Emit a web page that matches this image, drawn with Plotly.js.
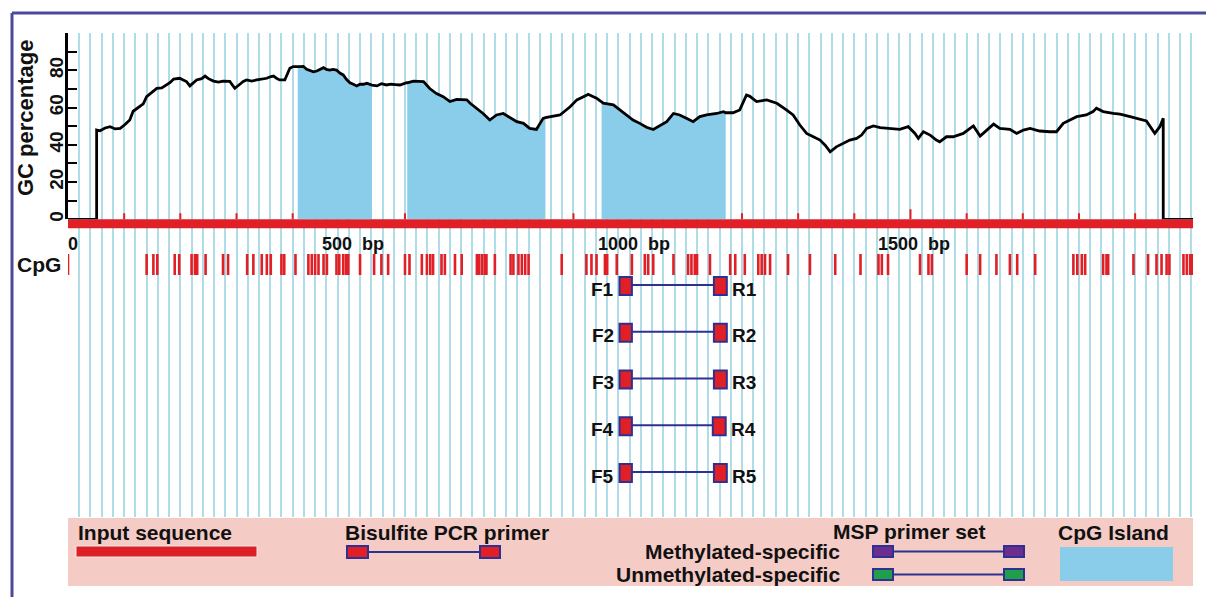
<!DOCTYPE html>
<html><head><meta charset="utf-8">
<script src="https://cdn.plot.ly/plotly-3.0.1.min.js"></script>
<style>html,body{margin:0;padding:0;background:#fff;}#chart{width:1206px;height:597px;}</style>
</head><body><div id="chart"></div>
<script>
// ---------------- data ----------------
const seqLength = 2003;
const gcPos = [0,51,51,57,66,75,84,93,102,110,116,128,134,140,149,158,167,176,182,188,199,205,211,217,223,229,238,244,250,259,268,276,288,297,306,312,318,327,336,345,354,360,366,372,377,386,392,395,401,407,409,413,419,425,431,437,443,449,455,460,466,472,478,484,490,496,502,508,514,520,526,532,541,550,558,567,575,583,
  591,603,604,615,627,633,644,656,668,680,692,710,716,728,739,751,763,775,787,799,811,822,834,846,850,858,876,894,906,924,926,941,950,953,971,983,995,1006,1018,1030,1042,1054,1066,1078,1089,1101,1113,1125,1137,1155,1167,1171,1184,1196,1208,1214,1226,1244,1262,1279,1291,1303,
  1315,1327,1339,1348,1357,1368,1380,1392,1404,1413,1422,1434,1446,1464,1481,1496,1508,1514,1523,1535,1546,1552,1564,1576,1594,1606,1612,1624,1636,1648,1659,1677,1689,1701,1713,1730,1748,1760,1772,1784,1796,1813,1825,1831,1843,1861,1873,1891,1909,1920,1929,1935,1944,1950,1950,2003];
const gcVal = [0,0,47.9,47.5,49,49.7,48.5,48.8,51,53.3,58,60.4,62,65.8,68,70.3,70.5,72.1,73.5,75.3,75.7,74.8,73.9,71.6,73,74.8,75.5,76.9,75.5,74.2,73.6,74.2,74,70.3,72.5,74,74.8,74.2,74.8,75.3,75.7,76.5,76.9,75.5,74.8,74.8,79,81.1,82,82.3,82,81.9,82,80.5,79.8,79.2,79.6,80.5,81.4,80.5,80.1,80.5,80.1,78.5,77.5,75,73.3,72.5,71.6,72.5,72.5,73,72,71.6,72.8,72.1,72.5,72.3,
  72.1,73.3,73.3,74.2,74.2,73.9,70.2,67.5,65.8,63.2,64.4,64.1,62.3,59.6,56.8,53.3,56.0,56.8,54.6,52.4,51.5,48.8,48.2,54.2,54.6,55.1,56.0,60.4,64.1,66.7,67.1,65.0,63,62.3,61.4,58.7,56.0,53.3,51.5,49.4,48.2,50.1,52.4,56.8,56.0,54.2,52.4,55.1,56.0,56.8,57.8,57.2,57.2,58.7,66.7,66.0,63.2,64.1,62.3,58.7,56.0,50.6,
  46.1,44.3,42.5,39.8,36.2,38.9,40.7,42.5,43.4,45.2,48.8,50.1,49.2,48.8,48.3,49.7,46.1,43.4,47.0,45.2,42.5,41.6,44.3,44.3,46.1,48.8,50.1,44.7,47.9,51.1,48.8,48.3,46.1,47.9,48.8,47.4,47.0,47.0,51.5,53.3,55.1,56.0,57.8,59.6,57.8,56.8,56.4,55.1,53.7,52.8,48.8,46.1,49.7,54.2,0,0];
const islandStart = [409, 604, 950];
const islandEnd = [541, 850, 1171];
const cpgPos = [0,140,152,159,190,198,220,226,230,245,276,285,319,330,345,354,361,380,385,405,428,434,440,446,455,461,478,483,490,495,499,520,545,558,570,600,608,630,639,645,650,665,671,689,701,728,732,737,742,745,760,788,793,802,808,814,820,879,923,932,941,956,960,977,1004,1027,1033,1042,1078,1104,1110,1116,1120,1143,1179,1188,1205,1229,1235,1241,1250,1282,1321,1366,1411,1443,1449,1460,1517,1532,1538,1600,1624,1653,1677,1690,1722,1790,1797,1805,1811,1843,1849,1852,1897,1923,1938,1947,1956,1961,1986,1992,1998,2001];
const primerNames = ['1','2','3','4','5'];
const fwdStart = [982,982,982,982,982];
const fwdEnd = [1004,1004,1004,1004,1004];
const revStart = [1150,1150,1150,1148,1150];
const revEnd = [1173,1173,1173,1171,1173];
const rulerTicks = [100,200,300,400,500,600,700,800,900,1000,1100,1200,1300,1400,1500,1600,1700,1800,1900];
const rulerMajor = [500,1000,1500];
const rulerLabelPos = [0,500,1000,1500];
const rulerLabelText = ['0','500\u00a0\u00a0bp','1000\u00a0\u00a0bp','1500\u00a0\u00a0bp'];
const gcTickVals = [0,10,20,30,40,50,60,70,80,90,100];
const gcTickText = ['0','','20','','40','','60','','80','',''];

// ---------------- styling / layout helpers ----------------
const FONT = 'Arial, "Liberation Sans", sans-serif';
const RED = '#e01f26', NAVY = '#2e3192', ISLAND = '#89cdea';
const PL = 68, PR = 1193, PT = 33, PB = 517, ZERO_PX = 219.3;
const X = px => (px - PL) / (PR - PL);
const Y = py => (PB - py) / (PB - PT);
const ROW0 = 286, ROWSTEP = 46.75;
const rowOf = py => 1 + (py - ROW0) / ROWSTEP;
const cpgRow = rowOf(264.5);
const zeroRow = rowOf(ZERO_PX);
const boxHalf = 0.19;

const traces = [];
// CpG marks (lower panel, x / y)
traces.push({x: cpgPos, y: cpgPos.map(() => cpgRow), xaxis: 'x', yaxis: 'y', type: 'scatter', mode: 'markers',
  marker: {symbol: 'line-ns', size: 15, color: RED, line: {color: RED, width: 2.6}}, hoverinfo: 'skip', showlegend: false});
// CpG islands (fill under GC curve)
islandStart.forEach((s, i) => {
  const xs = [], ys = [];
  gcPos.forEach((p, j) => { if (p >= s && p <= islandEnd[i] && gcVal[j] > 0) { xs.push(p); ys.push(gcVal[j]); } });
  traces.push({x: xs, y: ys, xaxis: 'x', yaxis: 'y2', type: 'scatter', mode: 'lines', fill: 'tozeroy',
    fillcolor: ISLAND, line: {width: 0, color: ISLAND}, hoverinfo: 'skip', showlegend: false});
});
// GC curve
traces.push({x: gcPos, y: gcVal, xaxis: 'x', yaxis: 'y2', type: 'scatter', mode: 'lines',
  line: {color: '#000', width: 2.8}, hoverinfo: 'skip', showlegend: false});

const shapes = [];
// ruler bar + ticks
shapes.push({type: 'rect', xref: 'x', yref: 'y', x0: 0, x1: seqLength, ysizemode: 'pixel', yanchor: zeroRow, y0: -9, y1: 0,
  fillcolor: RED, line: {width: 0}, layer: 'between'});
rulerTicks.forEach(t => {
  const len = rulerMajor.includes(t) ? 10 : 6;
  shapes.push({type: 'line', xref: 'x', yref: 'y2', x0: t, x1: t, ysizemode: 'pixel', yanchor: 0, y0: 0, y1: len,
    line: {color: RED, width: 2}, layer: 'between'});
});
// primers
primerNames.forEach((n, i) => {
  const r = i + 1;
  shapes.push({type: 'line', xref: 'x', yref: 'y', x0: fwdEnd[i], x1: revStart[i], y0: r - 0.02, y1: r - 0.02, line: {color: NAVY, width: 2}});
  shapes.push({type: 'rect', xref: 'x', yref: 'y', x0: fwdStart[i], x1: fwdEnd[i], y0: r - boxHalf, y1: r + boxHalf, fillcolor: RED, line: {color: NAVY, width: 2}});
  shapes.push({type: 'rect', xref: 'x', yref: 'y', x0: revStart[i], x1: revEnd[i], y0: r - boxHalf, y1: r + boxHalf, fillcolor: RED, line: {color: NAVY, width: 2}});
});
// frame
const FRAME = '#4a4a9c';
shapes.push({type: 'line', xref: 'paper', yref: 'paper', x0: X(12), x1: X(1215), y0: Y(13), y1: Y(13), line: {color: FRAME, width: 3}});
shapes.push({type: 'line', xref: 'paper', yref: 'paper', x0: X(12), x1: X(12), y0: Y(13), y1: Y(605), line: {color: FRAME, width: 3}});
// legend box
const pRect = (x0, x1, y0, y1, fill, lc, lw) => ({type: 'rect', xref: 'paper', yref: 'paper', x0: X(x0), x1: X(x1), y0: Y(y1), y1: Y(y0),
  fillcolor: fill, line: {color: lc || fill, width: lw || 0}});
const pLine = (x0, x1, y, c, w) => ({type: 'line', xref: 'paper', yref: 'paper', x0: X(x0), x1: X(x1), y0: Y(y), y1: Y(y), line: {color: c, width: w}});
shapes.push(pRect(68, 1193, 518, 586, '#f5cbc6'));
shapes.push(pRect(76, 257, 546, 557, '#dd1f26', '#fbe6e2', 1));
shapes.push(pLine(368, 480, 552, NAVY, 2));
shapes.push(pRect(347, 368, 546, 558, RED, NAVY, 2));
shapes.push(pRect(480, 500, 546, 558, RED, NAVY, 2));
shapes.push(pLine(893, 1004, 551.5, NAVY, 2));
shapes.push(pRect(873, 893, 546, 557, '#6b2d8e', NAVY, 2));
shapes.push(pRect(1004, 1024, 546, 557, '#6b2d8e', NAVY, 2));
shapes.push(pLine(893, 1004, 574.5, NAVY, 2));
shapes.push(pRect(873, 893, 569, 580, '#1f9e4c', NAVY, 2));
shapes.push(pRect(1004, 1024, 569, 580, '#1f9e4c', NAVY, 2));
shapes.push(pRect(1060, 1173, 547, 581, ISLAND));

const ann = [];
const bf = (s) => ({family: FONT, size: s, color: '#111', weight: 'bold'});
ann.push({text: 'GC percentage', xref: 'paper', yref: 'paper', x: X(25), y: Y(118), textangle: -90, showarrow: false, font: bf(22), xanchor: 'center', yanchor: 'middle'});
ann.push({text: 'CpG', xref: 'paper', yref: 'y', x: X(63), y: cpgRow, xanchor: 'right', yanchor: 'middle', showarrow: false, font: bf(21)});
rulerLabelPos.forEach((p, i) => ann.push({text: rulerLabelText[i], xref: 'x', yref: 'y2', x: p, y: 0, xshift: i === 0 ? 5 : 4, yshift: -25,
  xanchor: 'center', yanchor: 'middle', showarrow: false, font: bf(18)}));
primerNames.forEach((n, i) => {
  ann.push({text: 'F' + n, xref: 'x', yref: 'y', x: fwdStart[i], y: i + 1, xshift: -4, yshift: -3, xanchor: 'right', yanchor: 'middle', showarrow: false, font: bf(19)});
  ann.push({text: 'R' + n, xref: 'x', yref: 'y', x: revEnd[i], y: i + 1, xshift: 3, yshift: -3, xanchor: 'left', yanchor: 'middle', showarrow: false, font: bf(19)});
});
const legText = (t, px, py, anchor) => ann.push({text: t, xref: 'paper', yref: 'paper', x: X(px), y: Y(py), xanchor: anchor, yanchor: 'middle', showarrow: false, font: bf(21)});
legText('Input sequence', 76, 532, 'left');
legText('Bisulfite PCR primer', 343, 532, 'left');
legText('MSP primer set', 831, 531, 'left');
legText('Methylated-specific', 842, 551, 'right');
legText('Unmethylated-specific', 842, 574, 'right');
legText('CpG Island', 1056, 532, 'left');

const layout = {
  width: 1206, height: 597, autosize: false,
  margin: {l: PL, r: 1206 - PR, t: PT, b: 597 - PB, pad: 0},
  paper_bgcolor: '#ffffff', plot_bgcolor: 'rgba(0,0,0,0)',
  showlegend: false,
  xaxis: {range: [0, seqLength], showgrid: true, gridcolor: '#afdce7', gridwidth: 2, tick0: 0, dtick: 20,
    showticklabels: false, ticks: '', showline: false, zeroline: false, fixedrange: true, automargin: false},
  yaxis: {domain: [0, 1], range: [rowOf(PB), rowOf(PT)], visible: false, fixedrange: true, automargin: false},
  yaxis2: {domain: [(PB - ZERO_PX) / (PB - PT), 1], range: [0, 100], anchor: 'x', side: 'left',
    showline: true, linecolor: '#000', linewidth: 2.6, ticks: 'inside', ticklen: 9, tickwidth: 2, tickcolor: '#000',
    tickvals: gcTickVals, ticktext: gcTickText, tickangle: -90, tickfont: bf(19), ticklabelstandoff: -5,
    showgrid: false, zeroline: false, fixedrange: true, automargin: false},
  shapes: shapes, annotations: ann
};
Plotly.newPlot('chart', traces, layout, {staticPlot: true, displayModeBar: false});
</script></body></html>
